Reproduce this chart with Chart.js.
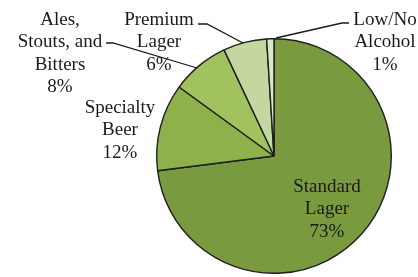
<!DOCTYPE html>
<html>
<head>
<meta charset="utf-8">
<script src="https://cdn.jsdelivr.net/npm/chart.js@4/dist/chart.umd.min.js"></script>
<style>
html,body{margin:0;padding:0;background:#fff;}
#wrap{width:418px;height:277px;position:relative;}
</style>
</head>
<body>
<div id="wrap"><canvas id="c" width="418" height="277"></canvas></div>
<script>
const categories = [["Standard","Lager"],["Specialty","Beer"],["Ales,","Stouts, and","Bitters"],["Premium","Lager"],["Low/No","Alcohol"]];
const values = [73, 12, 8, 6, 1];
const colors = ["#7A9A3F", "#8EB14C", "#A1C25F", "#C4D7A0", "#DBE6C6"];

// label layout: centre x, first-line centre y, optional leader line points
const labelLayout = [
  {x: 327, y: 187},
  {x: 120, y: 108},
  {x: 60, y: 20, leader: [[106, 43], [113, 43]], leaderFrac: 0.5, leaderEnd: [197, 68]},
  {x: 159, y: 20, leader: [[198, 24], [207, 24]], leaderEnd: [243, 43]},
  {x: 385, y: 20, leader: [[349, 23], [342, 23]], leaderEnd: [276, 38]}
];

const labelPlugin = {
  id: 'pieLabels',
  afterDatasetsDraw(chart) {
    const ctx = chart.ctx;
    const meta = chart.getDatasetMeta(0);
    const total = values.reduce((a, b) => a + b, 0);
    ctx.save();
    ctx.font = '19px "Liberation Serif", "Times New Roman", serif';
    ctx.fillStyle = '#1a1a1a';
    ctx.textAlign = 'center';
    ctx.textBaseline = 'middle';
    const lh = 22.5;
    categories.forEach((lines, i) => {
      const L = labelLayout[i];
      const all = lines.concat([Math.round(values[i] / total * 100) + '%']);
      all.forEach((t, k) => ctx.fillText(t, L.x, L.y + k * lh));
      if (L.leader) {
        const arc = meta.data[i];
        const mid = (arc.startAngle + arc.endAngle) / 2;
        ctx.strokeStyle = '#1a1a1a';
        ctx.lineWidth = 1.3;
        ctx.beginPath();
        ctx.moveTo(L.leader[0][0], L.leader[0][1]);
        ctx.lineTo(L.leader[1][0], L.leader[1][1]);
        ctx.lineTo(L.leaderEnd[0], L.leaderEnd[1]);
        ctx.stroke();
      }
    });
    ctx.restore();
  }
};

new Chart(document.getElementById('c'), {
  type: 'pie',
  data: {
    labels: categories.map(l => l.join(' ')),
    datasets: [{
      data: values,
      backgroundColor: colors,
      borderColor: '#1f1f1f',
      borderWidth: 1.4
    }]
  },
  options: {
    responsive: false,
    animation: false,
    events: [],
    layout: {padding: {left: 156, top: 38, right: 26, bottom: 3}},
    plugins: {legend: {display: false}, tooltip: {enabled: false}}
  },
  plugins: [labelPlugin]
});
</script>
</body>
</html>
